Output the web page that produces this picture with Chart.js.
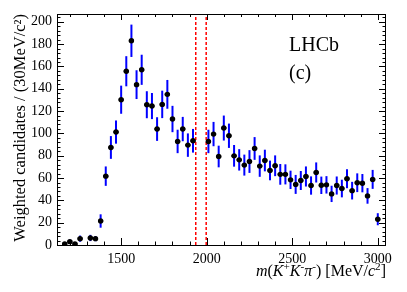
<!DOCTYPE html>
<html><head><meta charset="utf-8">
<script src="https://cdn.jsdelivr.net/npm/chart.js@4/dist/chart.umd.min.js"></script>
<style>html,body{margin:0;padding:0;background:#fff;}#wrap{width:407px;height:292px;}</style>
</head><body><div id="wrap"><canvas id="c" width="407" height="292"></canvas></div>
<script>
// bin centres (MeV/c^2), 30 MeV bins
const masses = [1170,1200,1230,1260,1290,1320,1350,1380,1410,1440,1470,1500,1530,1560,1590,1620,1650,1680,1710,1740,1770,1800,1830,1860,1890,1920,1950,1980,2010,2040,2070,2100,2130,2160,2190,2220,2250,2280,2310,2340,2370,2400,2430,2460,2490,2520,2550,2580,2610,2640,2670,2700,2730,2760,2790,2820,2850,2880,2910,2940,2970,3000];
const values = [1,3,1,5.7,null,6.3,5.7,21.5,61.7,87.4,101.2,130.2,155.7,183,143.7,157,125.7,124.5,103.9,126,135,112.9,92.8,103.9,89.5,93.4,null,null,92.8,99.4,79.3,104.8,97.9,79.9,76.3,71.6,74.8,86.5,70.7,75.7,66.8,71,63.3,63.3,58.4,54.3,57.8,61.4,53.3,65,53.5,53.9,45.8,53.3,50.6,59.4,48.7,55.8,55.4,44,58.8,23.1];
const errors = [1.5,2,1.5,2.8,null,2.8,2.3,6,8.7,10.2,10.4,12.6,13.5,14.5,12.9,13.5,12.1,11.7,10.6,12.3,12.9,11.8,10.5,10.9,10.5,10.6,null,null,10.5,10.9,9.7,11.2,10.9,9.7,9.6,9.4,10.2,10.2,9.6,9.7,8.8,9.3,9.3,9,8.2,8.5,8.5,9,8.2,9,7.8,7.8,7.3,8.1,7.9,8.5,7.9,8.4,8.2,7,8.5,5.4];
const binHalfWidth = 15;
const vetoLines = [1936, 1997];
const xTicks = [1500, 2000, 2500, 3000];
const yTicks = [0, 20, 40, 60, 80, 100, 120, 140, 160, 180, 200];
const xRange = [1125, 3048];
const yRange = [0, 207];

const SERIF = "'Liberation Serif', 'DejaVu Serif', serif";

const points = [];
masses.forEach((m, i) => { if (values[i] !== null) points.push({x: m, y: values[i], e: errors[i]}); });

const errorBars = {
  id: 'errorBars',
  beforeDatasetsDraw(chart) {
    const ctx = chart.ctx, xs = chart.scales.x, ys = chart.scales.y;
    ctx.save();
    points.forEach(p => {
      const px = xs.getPixelForValue(p.x), py = ys.getPixelForValue(p.y);
      ctx.strokeStyle = '#0000ff'; ctx.lineWidth = 2;
      ctx.beginPath();
      ctx.moveTo(px, ys.getPixelForValue(p.y - p.e));
      ctx.lineTo(px, ys.getPixelForValue(p.y + p.e));
      ctx.stroke();
      ctx.strokeStyle = '#000'; ctx.lineWidth = 2;
      ctx.beginPath();
      ctx.moveTo(xs.getPixelForValue(p.x - binHalfWidth), py);
      ctx.lineTo(xs.getPixelForValue(p.x + binHalfWidth), py);
      ctx.stroke();
    });
    ctx.restore();
  }
};

function drawSegments(ctx, segs, xRight, baseline, size) {
  let total = 0;
  const fontFor = s => (s.it ? 'italic ' : '') + (s.sup ? size * 0.7 : size) + 'px ' + SERIF;
  segs.forEach(s => { ctx.font = fontFor(s); s.w = ctx.measureText(s.t).width; total += s.w; });
  let x = xRight - total;
  segs.forEach(s => {
    ctx.font = fontFor(s);
    ctx.fillText(s.t, x, s.sup ? baseline - size * 0.38 : baseline);
    x += s.w;
  });
}

const frame = {
  id: 'frame',
  afterDraw(chart) {
    const ctx = chart.ctx, a = chart.chartArea, xs = chart.scales.x, ys = chart.scales.y;
    ctx.save();
    ctx.strokeStyle = '#000'; ctx.lineWidth = 1;
    ctx.strokeRect(Math.round(a.left) + 0.5, Math.round(a.top) + 0.5, Math.round(a.right - a.left) - 1, Math.round(a.bottom - a.top));
    ctx.beginPath();
    for (let v = 1200; v <= 3000; v += 100) {
      const px = Math.round(xs.getPixelForValue(v)) + 0.5;
      const major = xTicks.includes(v);
      ctx.moveTo(px, a.bottom); ctx.lineTo(px, a.bottom - (major ? 7 : 3.5));
      ctx.moveTo(px, a.top); ctx.lineTo(px, a.top + (major ? 6 : 3));
    }
    for (let v = 0; v <= 204; v += 4) {
      const py = Math.round(ys.getPixelForValue(v)) + 0.5;
      const major = yTicks.includes(v);
      ctx.moveTo(a.left, py); ctx.lineTo(a.left + (major ? 7 : 3.5), py);
      ctx.moveTo(a.right, py); ctx.lineTo(a.right - (major ? 7 : 3.5), py);
    }
    ctx.stroke();
    ctx.fillStyle = '#000';
    ctx.textBaseline = 'alphabetic'; ctx.textAlign = 'left';
    ctx.font = '20px ' + SERIF;
    ctx.fillText('LHCb', 289, 51);
    ctx.fillText('(c)', 289, 79);
    drawSegments(ctx, [
      {t: 'm', it: 1}, {t: '('}, {t: 'K', it: 1}, {t: '+', sup: 1}, {t: 'K', it: 1}, {t: '-', sup: 1},
      {t: 'π', it: 1}, {t: '-', sup: 1}, {t: ') [MeV/'}, {t: 'c', it: 1}, {t: '2', sup: 1}, {t: ']'}
    ], 386, 276, 16);
    ctx.restore();
  }
};

new Chart(document.getElementById('c'), {
  type: 'scatter',
  data: {
    datasets: [
      {data: points, backgroundColor: '#000', borderColor: '#000', pointRadius: 2.7, pointHoverRadius: 2.7, borderWidth: 0},
      ...vetoLines.map(v => ({type: 'line', data: [{x: v, y: yRange[0]}, {x: v, y: yRange[1]}],
        borderColor: '#ff0000', borderWidth: 1.5, borderDash: [3, 2], pointRadius: 0, fill: false}))
    ]
  },
  options: {
    responsive: false, animation: false, devicePixelRatio: 1,
    layout: {padding: {top: 14, right: 21, left: 0, bottom: 0}},
    plugins: {legend: {display: false}, tooltip: {enabled: false}},
    scales: {
      x: {
        type: 'linear', min: xRange[0], max: xRange[1],
        grid: {display: false, drawTicks: false}, border: {display: false},
        ticks: {color: '#000', font: {family: SERIF, size: 14}, padding: 6, maxRotation: 0, autoSkip: false,
          callback: v => String(v)},
        afterBuildTicks: s => { s.ticks = xTicks.map(v => ({value: v})); },
        afterFit: s => { s.height = 47; }
      },
      y: {
        type: 'linear', min: yRange[0], max: yRange[1],
        grid: {display: false, drawTicks: false}, border: {display: false},
        ticks: {color: '#000', font: {family: SERIF, size: 14}, padding: 5, callback: v => String(v)},
        afterBuildTicks: s => { s.ticks = yTicks.map(v => ({value: v})); },
        afterFit: s => { s.width = 57; },
        title: {display: true, text: 'Weighted candidates / (30MeV/c²)', align: 'end', color: '#000',
          font: {family: SERIF, size: 16.5}, padding: {top: 11, bottom: 0}}
      }
    }
  },
  plugins: [errorBars, frame]
});
</script></body></html>
